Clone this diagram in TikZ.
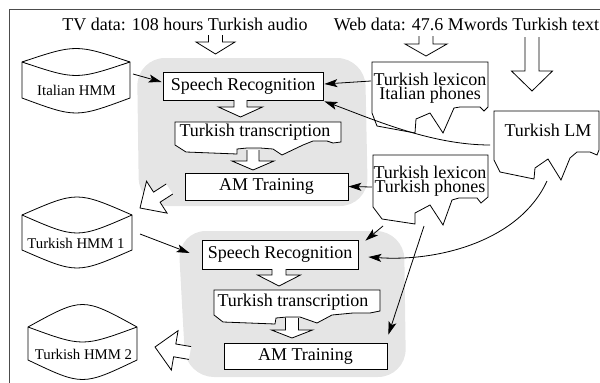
\documentclass[tikz,border=0pt]{standalone}
\usepackage{fontspec}
\setmainfont{Liberation Serif}
\usetikzlibrary{calc,arrows.meta}

\tikzset{
  lbl/.style={font=\fontsize{18}{14}\selectfont, inner sep=0pt},
  hmmlbl/.style={font=\fontsize{14.8}{16}\selectfont, inner sep=0pt},
  procbox/.style={draw, fill=white, line width=0.8pt, inner sep=0pt,
                  font=\fontsize{18}{14}\selectfont},
  outline/.style={draw, fill=white, line width=0.8pt, line join=miter},
  blockarrow/.style={draw, fill=white, line width=0.8pt, line join=miter},
  conn/.style={line width=0.8pt, -{Stealth[length=13pt,width=8pt,inset=3pt]}},
  region/.style={fill=gray!20, rounded corners=28pt},
}

% hollow block arrow: #1 start, #2 tip, #3 half shaft, #4 half head, #5 head length
\newcommand\blockarr[5]{%
  \coordinate (bah) at ($(#2)!#5!(#1)$);
  \filldraw[blockarrow] ($(#1)!#3!90:(#2)$) -- ($(bah)!#3!90:(#2)$)
    -- ($(bah)!#4!90:(#2)$) -- (#2) -- ($(bah)!#4!-90:(#2)$)
    -- ($(bah)!#3!-90:(#2)$) -- ($(#1)!#3!-90:(#2)$);
}

% drum (HMM store): left, right, top apex, side top, inner arc, side bottom, bottom apex
\newcommand\drum[7]{%
  \filldraw[outline] (#1,#4) .. controls ({(#1+#2)/2},{2*#3-#4}) .. (#2,#4)
    -- (#2,#6) .. controls ({(#1+#2)/2},{2*#7-#6}) .. (#1,#6) -- cycle;
  \draw[line width=0.8pt] (#1,#4) .. controls ({(#1+#2)/2},{2*#5-#4}) .. (#2,#4);
}

\begin{document}
\begin{tikzpicture}[x=1pt,y=-1pt]
\useasboundingbox (0,0) rectangle (600,383);

% frame
\draw[black!70, line width=1pt] (9,390) -- (9,9) -- (610,9);

% shaded processing stages
\fill[region] (137,58) -- (365,58) -- (368,206) -- (139,206) -- cycle;
\fill[region] (178,231) -- (404,231) -- (406,377) -- (186,377) -- cycle;

% HMM stores
\drum{22}{130}{53}{62}{71}{98}{108}
\drum{22}{132}{203}{215}{227}{250}{262}
\drum{28}{137}{312}{327}{337}{360}{373}
\node[hmmlbl, anchor=base] (ihmm) at (76.5,95) {Italian HMM};
\node[hmmlbl, anchor=base] (thmm1) at (76,248.3) {Turkish HMM 1};
\node[hmmlbl, anchor=base] (thmm2) at (83.5,359) {Turkish HMM 2};

% documents
\filldraw[outline] (372,62) -- (488,62) -- (488,107) -- (484,111) -- (480,107)
  -- (460,107) -- (454,108) -- (443,133) -- (430,113) -- (416,119) -- (415,133)
  -- (377,126) -- (372,113) -- cycle;
\filldraw[outline] (373,155) -- (488,155) -- (488,197) -- (481,203) -- (477,198)
  -- (459,198) -- (452,200) -- (443,225) -- (430,205) -- (415,213) -- (415,224)
  -- (382,219) -- (373,207) -- cycle;
\filldraw[outline] (494,111) -- (599,111) -- (599,150) -- (597,155) -- (590,152)
  -- (577,152) -- (570,158) -- (561,180) -- (548,159) -- (535,168) -- (534,179)
  -- (500,172) -- (494,160) -- cycle;
\filldraw[outline] (175,122) -- (341,122) -- (341,142) -- (333,143) -- (327,141)
  -- (313,141) -- (303,145) -- (282,155) -- (273,149) -- (260,148) -- (247,148)
  -- (237,149) -- (237,154) -- (186,152) -- (175,145) -- cycle;
\filldraw[outline] (214,290) -- (380,290) -- (380,311) -- (375,312) -- (370,313)
  -- (353,313) -- (332,315) -- (317,323) -- (300,317) -- (287,317) -- (276,318)
  -- (275,324) -- (223,322) -- (214,315) -- cycle;

% texts
\node[lbl, anchor=base] (tv) at (185,30) {TV data: 108 hours Turkish audio};
\node[lbl, anchor=base] (web) at (466.5,30) {Web data: 47.6 Mwords Turkish text};
\node[lbl, anchor=base] (lm) at (548,136.5) {Turkish LM};
\node[lbl, align=center] (lexit) at (430,88.5) {Turkish lexicon\\Italian phones};
\node[lbl, align=center] (lextu) at (430,181.5) {Turkish lexicon\\Turkish phones};
\node[lbl, anchor=base] (tt1) at (255,136) {Turkish transcription};
\node[lbl, anchor=base] (tt2) at (293,306.5) {Turkish transcription};

% processing boxes
\node[procbox, minimum width=160pt, minimum height=28pt] (sr1) at (243,86) {Speech Recognition};
\node[procbox, minimum width=163pt, minimum height=27pt] (am1) at (266.5,186.5) {AM Training};
\node[procbox, minimum width=156pt, minimum height=29pt] (sr2) at (280,254.5) {Speech Recognition};
\node[procbox, minimum width=163pt, minimum height=26pt] (am2) at (305.5,356) {AM Training};

% block arrows
\coordinate (tvout) at (215.5,35);   \coordinate (tvtip) at (215.5,54);
\coordinate (webout) at (426,36);    \coordinate (webtip) at (426,56);
\coordinate (lmin) at (532,37);      \coordinate (lmtip) at (532,91);
\coordinate (sraout) at (240.5,100); \coordinate (ttatip) at (240.5,117);
\coordinate (ttaout) at (253,150);   \coordinate (amatip) at (253,170);
\coordinate (srbout) at (279,269);   \coordinate (ttbtip) at (279,286);
\coordinate (ttbout) at (292,318);   \coordinate (ambtip) at (292,338);
\coordinate (amaout) at (169.5,189); \coordinate (hmmatip) at (140,208);
\coordinate (ambout) at (190,353);   \coordinate (hmmbtip) at (155,347);
\blockarr{tvout}{tvtip}{7pt}{19.5pt}{12pt}
\blockarr{webout}{webtip}{7pt}{21pt}{12pt}
\blockarr{lmin}{lmtip}{7pt}{20.5pt}{20pt}
\blockarr{sraout}{ttatip}{6.5pt}{22pt}{10pt}
\blockarr{ttaout}{amatip}{6pt}{21pt}{9pt}
\blockarr{srbout}{ttbtip}{7pt}{21.5pt}{11pt}
\blockarr{ttbout}{ambtip}{6.5pt}{20.5pt}{8pt}
\blockarr{amaout}{hmmatip}{6pt}{19pt}{20pt}
\blockarr{ambout}{hmmbtip}{6.5pt}{20pt}{20pt}

% connectors
\coordinate (ihmmout) at (133,74);
\coordinate (lexitw) at (371,81);
\coordinate (lmw) at (490,145);
\coordinate (lextuw) at (372,187);
\coordinate (thmmaout) at (140,234);
\coordinate (lextub) at (383,226);
\coordinate (lms) at (547,181);
\coordinate (lextus) at (424,226);
\draw[conn] (ihmmout) -- ($(sr1.west)+(-1,-4)$);
\draw[conn] (lexitw) -- ($(sr1.east)+(1,-2)$);
\draw[conn] (lmw) .. controls (430,145) and (370,118) .. ($(sr1.south east)+(1,1)$);
\draw[conn] (lextuw) -- (am1.east);
\draw[conn] (thmmaout) -- ($(sr2.west)+(-12,-1.5)$);
\draw[conn] (lextub) -- ($(sr2.north east)+(7,1)$);
\draw[conn] (lms) .. controls (520,240) and (440,262) .. ($(sr2.east)+(10,2.5)$);
\draw[conn] (lextus) -- ($(am2.north east)+(1,-8)$);
\end{tikzpicture}
\end{document}
